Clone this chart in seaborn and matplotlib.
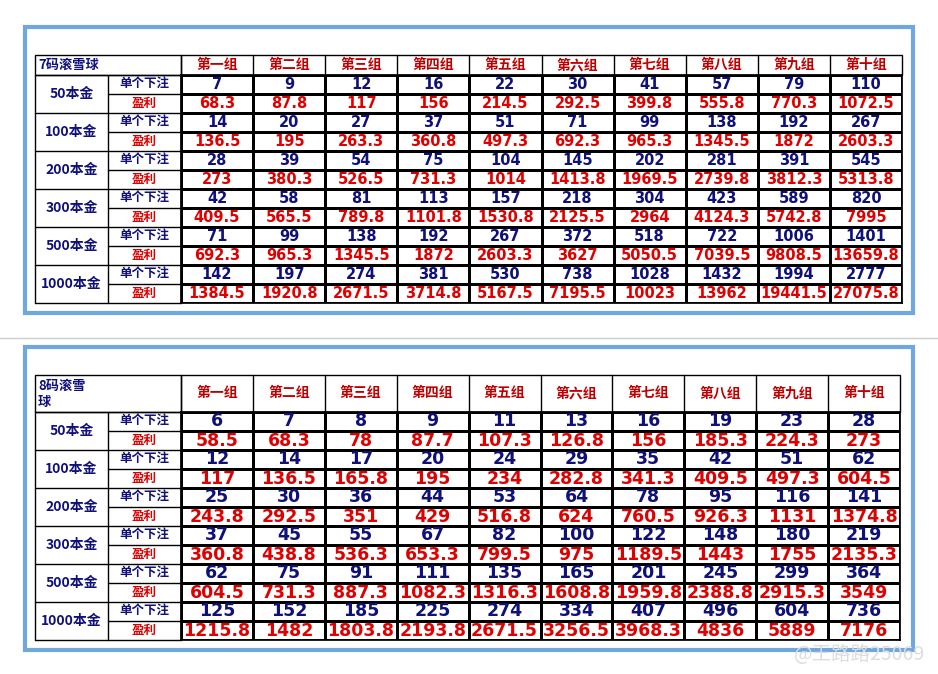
import numpy as np
import matplotlib
matplotlib.use("Agg")
import matplotlib.pyplot as plt
from matplotlib.colors import ListedColormap
from matplotlib.patches import Rectangle
import seaborn as sns

sns.set_theme(style="white")
plt.rcParams['font.family'] = ['Noto Sans CJK SC', 'DejaVu Sans']

groups = ["第一组", "第二组", "第三组", "第四组", "第五组", "第六组", "第七组", "第八组", "第九组", "第十组"]
capitals = ["50本金", "100本金", "200本金", "300本金", "500本金", "1000本金"]

t7_bets = [
    [7, 9, 12, 16, 22, 30, 41, 57, 79, 110],
    [14, 20, 27, 37, 51, 71, 99, 138, 192, 267],
    [28, 39, 54, 75, 104, 145, 202, 281, 391, 545],
    [42, 58, 81, 113, 157, 218, 304, 423, 589, 820],
    [71, 99, 138, 192, 267, 372, 518, 722, 1006, 1401],
    [142, 197, 274, 381, 530, 738, 1028, 1432, 1994, 2777],
]
t7_profit = [
    ["68.3", "87.8", "117", "156", "214.5", "292.5", "399.8", "555.8", "770.3", "1072.5"],
    ["136.5", "195", "263.3", "360.8", "497.3", "692.3", "965.3", "1345.5", "1872", "2603.3"],
    ["273", "380.3", "526.5", "731.3", "1014", "1413.8", "1969.5", "2739.8", "3812.3", "5313.8"],
    ["409.5", "565.5", "789.8", "1101.8", "1530.8", "2125.5", "2964", "4124.3", "5742.8", "7995"],
    ["692.3", "965.3", "1345.5", "1872", "2603.3", "3627", "5050.5", "7039.5", "9808.5", "13659.8"],
    ["1384.5", "1920.8", "2671.5", "3714.8", "5167.5", "7195.5", "10023", "13962", "19441.5", "27075.8"],
]
t8_bets = [
    [6, 7, 8, 9, 11, 13, 16, 19, 23, 28],
    [12, 14, 17, 20, 24, 29, 35, 42, 51, 62],
    [25, 30, 36, 44, 53, 64, 78, 95, 116, 141],
    [37, 45, 55, 67, 82, 100, 122, 148, 180, 219],
    [62, 75, 91, 111, 135, 165, 201, 245, 299, 364],
    [125, 152, 185, 225, 274, 334, 407, 496, 604, 736],
]
t8_profit = [
    ["58.5", "68.3", "78", "87.7", "107.3", "126.8", "156", "185.3", "224.3", "273"],
    ["117", "136.5", "165.8", "195", "234", "282.8", "341.3", "409.5", "497.3", "604.5"],
    ["243.8", "292.5", "351", "429", "516.8", "624", "760.5", "926.3", "1131", "1374.8"],
    ["360.8", "438.8", "536.3", "653.3", "799.5", "975", "1189.5", "1443", "1755", "2135.3"],
    ["604.5", "731.3", "887.3", "1082.3", "1316.3", "1608.8", "1959.8", "2388.8", "2915.3", "3549"],
    ["1215.8", "1482", "1803.8", "2193.8", "2671.5", "3256.5", "3968.3", "4836", "5889", "7176"],
]

W, H = 938, 674
fig = plt.figure(figsize=(W / 100, H / 100), dpi=100)
bg = fig.add_axes([0, 0, 1, 1])
bg.set_xlim(0, W); bg.set_ylim(H, 0); bg.axis("off")

NAVY = "#10107a"
RED = "#e00000"
HRED = "#c00000"
BLUE = "#6fa8dc"

def draw_table(title, bets, profit, top, hdr_h, row_h, x0, x2, xr, big):
    bg.add_patch(Rectangle((25, top - 28), 888, hdr_h + 12 * row_h + 38, fill=False, ec=BLUE, lw=3))
    y_data = top + hdr_h
    y_end = y_data + 12 * row_h
    x1 = x0 + 73
    bg.add_patch(Rectangle((x0, top), xr - x0, hdr_h, fill=False, ec="black", lw=1))
    bg.plot([x2, x2], [top, y_end], color="black", lw=1)
    bg.text(x0 + 3, top + hdr_h / 2, title, ha="left", va="center", color=NAVY, fontsize=9.5, fontweight="bold")
    cw = (xr - x2) / 10
    for j, g in enumerate(groups):
        bg.plot([x2 + j * cw] * 2, [top, y_data], color="black", lw=1)
        bg.text(x2 + (j + 0.5) * cw, top + hdr_h / 2, g, ha="center", va="center", color=HRED, fontsize=10, fontweight="bold")
    bg.plot([x0, x0], [y_data, y_end], color="black", lw=1)
    bg.plot([x1, x1], [y_data, y_end], color="black", lw=1)
    for i, c in enumerate(capitals):
        ya = y_data + 2 * i * row_h
        bg.plot([x0, x2], [ya, ya], color="black", lw=1)
        bg.plot([x1, x2], [ya + row_h, ya + row_h], color="black", lw=1)
        bg.text((x0 + x1) / 2, ya + row_h, c, ha="center", va="center", color=NAVY, fontsize=10, fontweight="bold")
        bg.text((x1 + x2) / 2, ya + row_h / 2, "单个下注", ha="center", va="center", color=NAVY, fontsize=9, fontweight="bold")
        bg.text((x1 + x2) / 2, ya + row_h * 1.5, "盈利", ha="center", va="center", color=RED, fontsize=9, fontweight="bold")
    bg.plot([x0, x2], [y_end, y_end], color="black", lw=1)
    labels = []
    for b, p in zip(bets, profit):
        labels.append([str(v) for v in b])
        labels.append(p)
    labels = np.array(labels)
    ax = fig.add_axes([x2 / W, 1 - y_end / H, (xr - x2) / W, (y_end - y_data) / H])
    sns.heatmap(np.zeros(labels.shape), ax=ax, cmap=ListedColormap(["white"]), cbar=False,
                linewidths=1, linecolor="black", annot=labels, fmt="",
                annot_kws={"fontsize": 12.5 if big else 10.5, "fontweight": "bold",
                           "family": "DejaVu Sans"})
    for k, t in enumerate(ax.texts):
        r = k // 10
        t.set_color(NAVY if r % 2 == 0 else RED)
    ax.set_xticks([]); ax.set_yticks([])
    for s in ax.spines.values():
        s.set_visible(True); s.set_color("black")

draw_table("7码滚雪球", t7_bets, t7_profit, top=55, hdr_h=20, row_h=19, x0=35, x2=181, xr=902, big=False)
draw_table("8码滚雪\n球", t8_bets, t8_profit, top=375, hdr_h=37, row_h=19, x0=35, x2=181, xr=900, big=True)
bg.plot([0, W], [338, 338], color="#cccccc", lw=1)
bg.text(925, 655, "@王路路25069", ha="right", va="center", color="#dddddd", fontsize=14)

fig.savefig("out.png", dpi=100)
